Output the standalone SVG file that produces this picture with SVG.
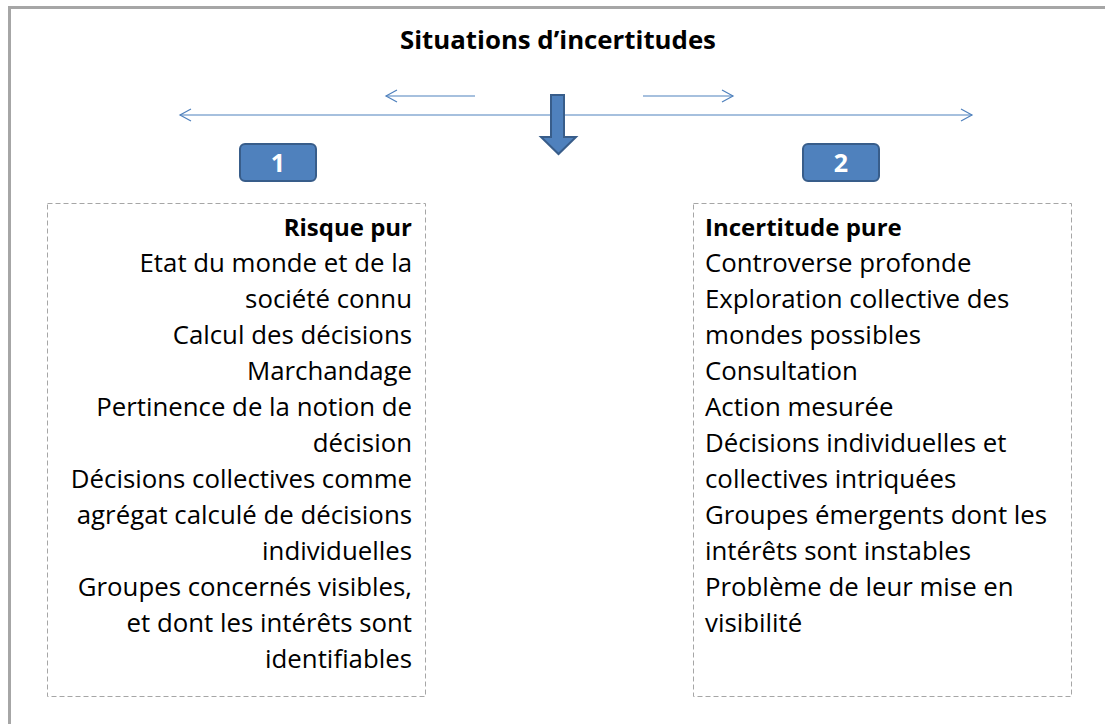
<svg xmlns="http://www.w3.org/2000/svg" width="1105" height="724" viewBox="0 0 1105 724">
<defs>
<style>
.t{font-family:"Open Sans","Liberation Sans",sans-serif;font-size:25.8px;fill:#000}
.b{font-weight:bold;font-size:24px}
.r{text-anchor:end}
.thin{stroke:#4f81bd;stroke-width:1.2;fill:none}
.dash{fill:#fff;stroke:#a6a6a6;stroke-width:1;stroke-dasharray:5,3}
.num{fill:#4f81bd;stroke:#385d8a;stroke-width:2}
.numt{font-family:"Open Sans","Liberation Sans",sans-serif;font-size:25px;font-weight:bold;fill:#fff;text-anchor:middle}
</style>
<marker id="oa" markerWidth="14" markerHeight="14" refX="12" refY="7" orient="auto" markerUnits="userSpaceOnUse">
<path d="M1,1 L12,7 L1,13" fill="none" stroke="#4f81bd" stroke-width="1.2"/>
</marker>
</defs>
<rect width="1105" height="724" fill="#fff"/>
<path d="M9.5,724 L9.5,7.5 L1105,7.5" fill="none" stroke="#a6a6a6" stroke-width="3"/>
<text class="t" x="558" y="49" text-anchor="middle" font-size="31" font-weight="bold">Situations d’incertitudes</text>
<g id="connectors">
<line class="thin" x1="560" y1="115" x2="180" y2="115" marker-end="url(#oa)"/>
<line class="thin" x1="560" y1="115" x2="972" y2="115" marker-end="url(#oa)"/>
<line class="thin" x1="475" y1="96" x2="386" y2="96" marker-end="url(#oa)"/>
<line class="thin" x1="643" y1="96" x2="733" y2="96" marker-end="url(#oa)"/>
<path d="M551,95 L564,95 L564,137 L576,137 L558.5,154 L541,137 L551,137 Z" fill="#4f81bd" stroke="#385d8a" stroke-width="2" stroke-linejoin="miter"/>
</g>
<g id="badge1">
<rect class="num" x="240" y="144" width="76" height="37" rx="5"/>
<text class="numt" x="278" y="172">1</text>
</g>
<g id="badge2">
<rect class="num" x="803" y="144" width="76" height="37" rx="5"/>
<text class="numt" x="841" y="172">2</text>
</g>
<g id="box1">
<rect class="dash" x="47.5" y="203.5" width="378" height="493"/>
<text class="t b r" x="412" y="236">Risque pur</text>
<text class="t r" x="412" y="272">Etat du monde et de la</text>
<text class="t r" x="412" y="308">société connu</text>
<text class="t r" x="412" y="344">Calcul des décisions</text>
<text class="t r" x="412" y="380">Marchandage</text>
<text class="t r" x="412" y="416">Pertinence de la notion de</text>
<text class="t r" x="412" y="452">décision</text>
<text class="t r" x="412" y="488">Décisions collectives comme</text>
<text class="t r" x="412" y="524">agrégat calculé de décisions</text>
<text class="t r" x="412" y="560">individuelles</text>
<text class="t r" x="412" y="596">Groupes concernés visibles,</text>
<text class="t r" x="412" y="632">et dont les intérêts sont</text>
<text class="t r" x="412" y="668">identifiables</text>
</g>
<g id="box2">
<rect class="dash" x="693.5" y="203.5" width="378" height="493"/>
<text class="t b" x="705" y="236">Incertitude pure</text>
<text class="t" x="705" y="272">Controverse profonde</text>
<text class="t" x="705" y="308">Exploration collective des</text>
<text class="t" x="705" y="344">mondes possibles</text>
<text class="t" x="705" y="380">Consultation</text>
<text class="t" x="705" y="416">Action mesurée</text>
<text class="t" x="705" y="452">Décisions individuelles et</text>
<text class="t" x="705" y="488">collectives intriquées</text>
<text class="t" x="705" y="524">Groupes émergents dont les</text>
<text class="t" x="705" y="560">intérêts sont instables</text>
<text class="t" x="705" y="596">Problème de leur mise en</text>
<text class="t" x="705" y="632">visibilité</text>
</g>
</svg>
